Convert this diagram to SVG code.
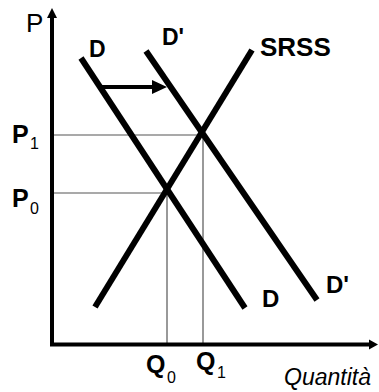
<svg xmlns="http://www.w3.org/2000/svg" width="379" height="392" viewBox="0 0 379 392">
<style>
.thick{stroke:#000;stroke-width:6;fill:none;stroke-linecap:butt}
.axis{stroke:#000;stroke-width:4;fill:none}
.guide{stroke:#555;stroke-width:1.2;fill:none}
.lbl{font-family:"Liberation Sans",Arial,sans-serif;font-weight:bold;fill:#000}
.sub{font-family:"Liberation Sans",Arial,sans-serif;font-weight:normal;fill:#000}
.reg{font-family:"Liberation Sans",Arial,sans-serif;fill:#000}
</style>
<rect width="379" height="392" fill="#fff"/>
<g id="connectors">
<line class="guide" x1="54" y1="135" x2="203" y2="135"/>
<line class="guide" x1="54" y1="193" x2="167" y2="193"/>
<line class="guide" x1="167" y1="193" x2="167" y2="343"/>
<line class="guide" x1="203" y1="135" x2="203" y2="343"/>
<line class="axis" x1="52" y1="16" x2="52" y2="346"/>
<polygon points="52,8 47,18 57,18" fill="#000"/>
<line class="axis" x1="50" y1="344.5" x2="370" y2="344.5"/>
<polygon points="378,344.5 369,339.5 369,349.5" fill="#000"/>
<line stroke="#000" stroke-width="4" x1="102" y1="87" x2="154" y2="87"/>
<polygon points="167,87 152,80 152,94" fill="#000"/>
</g>
<g id="D"><line class="thick" x1="81" y1="58" x2="245" y2="308"/></g>
<g id="Dprime"><line class="thick" x1="146" y1="51" x2="317" y2="300"/></g>
<g id="SRSS"><line class="thick" x1="95" y1="307" x2="252" y2="50"/></g>
<g id="labels">
<text class="reg" x="26" y="32" font-size="26">P</text>
<text class="lbl" x="89" y="57" font-size="23">D</text>
<text class="lbl" x="162" y="45" font-size="23">D'</text>
<text class="lbl" x="260" y="56" font-size="26">SRSS</text>
<text class="lbl" x="12" y="143" font-size="25">P</text>
<text class="sub" x="30" y="149" font-size="16">1</text>
<text class="lbl" x="12" y="207" font-size="25">P</text>
<text class="sub" x="30" y="214" font-size="16">0</text>
<text class="lbl" x="262" y="307" font-size="24">D</text>
<text class="lbl" x="326" y="293" font-size="24">D'</text>
<text class="lbl" x="146" y="373" font-size="25">Q</text>
<text class="sub" x="167" y="383" font-size="16">0</text>
<text class="lbl" x="196" y="370" font-size="25">Q</text>
<text class="sub" x="217" y="378" font-size="16">1</text>
<text class="reg" x="284" y="385" font-size="23" font-style="italic">Quantità</text>
</g>
</svg>
